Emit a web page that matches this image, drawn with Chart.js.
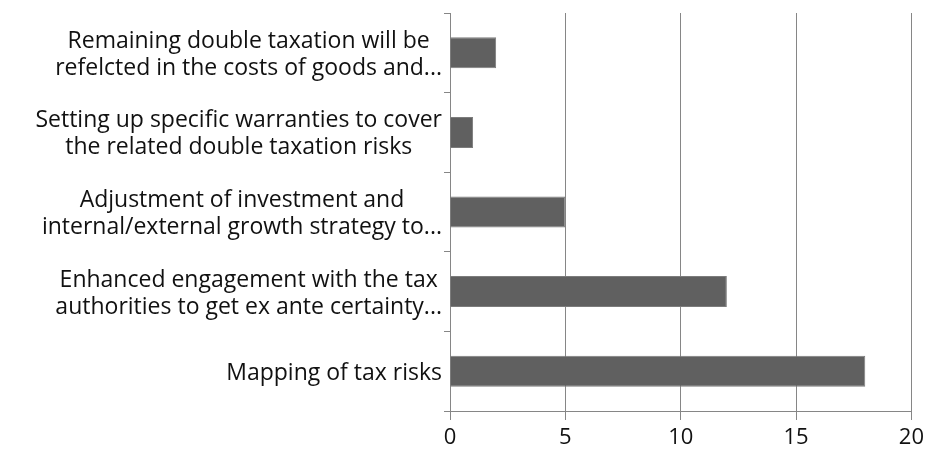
<!DOCTYPE html>
<html>
<head>
<meta charset="utf-8">
<script src="https://cdn.jsdelivr.net/npm/chart.js@4"></script>
<style>
    body { margin: 0; background: #fff; }
</style>
</head>
<body>
<canvas id="myChart" width="929" height="456"></canvas>
<script>
// chart data
const categories = [
    ['Remaining double taxation will be', 'refelcted in the costs of goods and...'],
    ['Setting up specific warranties to cover', 'the related double taxation risks'],
    ['Adjustment of investment and', 'internal/external growth strategy to...'],
    ['Enhanced engagement with the tax', 'authorities to get ex ante certainty...'],
    ['Mapping of tax risks']
];
const values = [2, 1, 5, 12, 18];
const xTicks = [0, 5, 10, 15, 20];

const labelFont = '23px "Open Sans"';
const lineColor = '#868686';

// Excel-style labels: block right-aligned, lines centered inside the block
const blockLabels = {
    id: 'blockLabels',
    afterDraw(chart) {
        const ctx = chart.ctx;
        const y = chart.scales.y;
        ctx.save();
        ctx.font = labelFont;
        ctx.fillStyle = '#111';
        ctx.textAlign = 'center';
        ctx.textBaseline = 'middle';
        categories.forEach(function (lines, i) {
            const w = Math.max.apply(null, lines.map(l => ctx.measureText(l).width));
            const cx = y.right - 8 - w / 2;
            const cy = y.getPixelForValue(i);
            lines.forEach(function (l, j) {
                ctx.fillText(l, cx, cy + (j - (lines.length - 1) / 2) * 27 + 2);
            });
        });
        ctx.restore();
    }
};

const ctx = document.getElementById('myChart').getContext('2d');
new Chart(ctx, {
    type: 'bar',
    data: {
        labels: categories.map(c => c.join(' ')),
        datasets: [{
            data: values,
            backgroundColor: '#606060',
            borderColor: '#7c7c7c',
            borderWidth: 1,
            categoryPercentage: 1,
            barPercentage: 0.39
        }]
    },
    options: {
        indexAxis: 'y',
        responsive: false,
        animation: false,
        layout: { padding: { top: 13, right: 13, bottom: 0, left: 0 } },
        scales: {
            x: {
                min: 0,
                max: 20,
                afterBuildTicks: function (scale) {
                    scale.ticks = xTicks.map(v => ({ value: v }));
                },
                afterFit: function (scale) { scale.height = 45; },
                grid: { color: lineColor, tickLength: 9 },
                border: { color: lineColor },
                ticks: {
                    color: '#111',
                    padding: 5,
                    font: { family: 'Open Sans', size: 22 }
                }
            },
            y: {
                afterFit: function (scale) { scale.width = 450; },
                grid: { offset: true, drawOnChartArea: false, color: lineColor, tickLength: 6 },
                border: { color: lineColor },
                ticks: { display: false }
            }
        },
        plugins: {
            legend: { display: false },
            tooltip: { enabled: false }
        }
    },
    plugins: [blockLabels]
});
</script>
</body>
</html>
